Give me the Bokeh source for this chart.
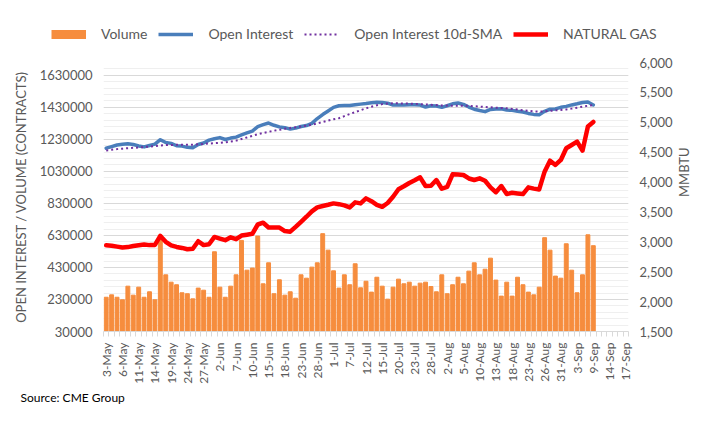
import math
from bokeh.plotting import figure
from bokeh.layouts import column
from bokeh.models import (Range1d, LinearAxis, FixedTicker, NumeralTickFormatter,
                          Legend, LegendItem, Title)
from bokeh.embed import file_html
from bokeh.resources import INLINE

# ---------------- data ----------------
dates = ["3-May", "4-May", "5-May", "6-May", "7-May", "10-May", "11-May", "12-May", "13-May", "14-May",
         "17-May", "18-May", "19-May", "20-May", "21-May", "24-May", "25-May", "26-May", "27-May", "28-May",
         "1-Jun", "2-Jun", "3-Jun", "4-Jun", "7-Jun", "8-Jun", "9-Jun", "10-Jun", "11-Jun", "14-Jun",
         "15-Jun", "16-Jun", "17-Jun", "18-Jun", "21-Jun", "22-Jun", "23-Jun", "24-Jun", "25-Jun", "28-Jun",
         "29-Jun", "30-Jun", "1-Jul", "2-Jul", "6-Jul", "7-Jul", "8-Jul", "9-Jul", "12-Jul", "13-Jul",
         "14-Jul", "15-Jul", "16-Jul", "19-Jul", "20-Jul", "21-Jul", "22-Jul", "23-Jul", "26-Jul", "27-Jul",
         "28-Jul", "29-Jul", "30-Jul", "2-Aug", "3-Aug", "4-Aug", "5-Aug", "6-Aug", "9-Aug", "10-Aug",
         "11-Aug", "12-Aug", "13-Aug", "16-Aug", "17-Aug", "18-Aug", "19-Aug", "20-Aug", "23-Aug", "24-Aug",
         "25-Aug", "26-Aug", "27-Aug", "30-Aug", "31-Aug", "1-Sep", "2-Sep", "3-Sep", "7-Sep", "8-Sep",
         "9-Sep", "10-Sep", "13-Sep", "14-Sep", "15-Sep", "16-Sep", "17-Sep"]

volume = [244000, 259000, 244000, 228000, 313000, 257000, 307000, 244000, 278000, 228000,
          632000, 384000, 338000, 322000, 272000, 266000, 234000, 301000, 288000, 244000,
          528000, 307000, 244000, 313000, 384000, 599000, 413000, 426000, 626000, 328000,
          459000, 266000, 353000, 257000, 278000, 238000, 384000, 363000, 432000, 459000,
          641000, 538000, 409000, 301000, 384000, 322000, 453000, 303000, 344000, 276000,
          369000, 313000, 232000, 307000, 357000, 328000, 338000, 313000, 332000, 338000,
          311000, 278000, 384000, 266000, 322000, 369000, 328000, 407000, 459000, 384000,
          419000, 488000, 351000, 251000, 338000, 251000, 369000, 322000, 276000, 259000,
          307000, 616000, 538000, 376000, 363000, 578000, 413000, 272000, 384000, 634000,
          566000]

open_interest = [1175000, 1185000, 1195000, 1199000, 1202000, 1198000, 1189000, 1183000, 1192000, 1200000,
                 1228000, 1210000, 1205000, 1190000, 1188000, 1180000, 1178000, 1198000, 1207000, 1225000,
                 1234000, 1241000, 1229000, 1238000, 1244000, 1258000, 1270000, 1282000, 1310000, 1322000,
                 1332000, 1318000, 1308000, 1303000, 1294000, 1300000, 1310000, 1316000, 1330000, 1360000,
                 1385000, 1407000, 1430000, 1440000, 1441000, 1441000, 1446000, 1450000, 1454000, 1459000,
                 1461000, 1460000, 1456000, 1444000, 1445000, 1445000, 1446000, 1446000, 1444000, 1432000,
                 1440000, 1438000, 1430000, 1440000, 1452000, 1457000, 1448000, 1432000, 1418000, 1410000,
                 1403000, 1417000, 1420000, 1421000, 1413000, 1411000, 1405000, 1401000, 1392000, 1386000,
                 1384000, 1405000, 1418000, 1420000, 1430000, 1436000, 1445000, 1452000, 1460000, 1463000,
                 1445000]

oi_sma_10d = [1161000, 1165000, 1169000, 1172000, 1175000, 1177000, 1179000, 1182000, 1185000, 1188000,
              1192000, 1194000, 1195000, 1196000, 1196000, 1197000, 1197000, 1199000, 1201000, 1204000,
              1206000, 1208000, 1211000, 1216000, 1222000, 1232000, 1242000, 1252000, 1262000, 1270000,
              1277000, 1284000, 1290000, 1296000, 1301000, 1306000, 1310000, 1316000, 1322000, 1330000,
              1338000, 1347000, 1355000, 1362000, 1375000, 1388000, 1400000, 1412000, 1424000, 1434000,
              1443000, 1450000, 1454000, 1455000, 1455000, 1454000, 1453000, 1452000, 1450000, 1448000,
              1446000, 1444000, 1442000, 1441000, 1440000, 1440000, 1440000, 1439000, 1437000, 1435000,
              1432000, 1430000, 1428000, 1426000, 1424000, 1420000, 1416000, 1412000, 1408000, 1405000,
              1404000, 1405000, 1408000, 1411000, 1414000, 1417000, 1422000, 1428000, 1434000, 1440000,
              1444000]

natural_gas = [2943, 2935, 2920, 2905, 2912, 2930, 2943, 2955, 2945, 2948,
               3099, 3000, 2940, 2915, 2898, 2875, 2885, 3010, 2945, 2960,
               3082, 3055, 3027, 3075, 3044, 3105, 3120, 3135, 3290, 3320,
               3240, 3240, 3238, 3180, 3170, 3250, 3334, 3420, 3510, 3576,
               3600, 3620, 3643, 3630, 3610, 3576, 3660, 3643, 3727, 3680,
               3620, 3586, 3650, 3754, 3880, 3930, 3985, 4030, 4079, 3933,
               3938, 4034, 3888, 3921, 4130, 4125, 4118, 4060, 4034, 4062,
               4022, 3910, 3830, 3933, 3799, 3821, 3810, 3799, 3911, 3890,
               3877, 4173, 4358, 4286, 4370, 4566, 4620, 4676, 4525, 4930,
               5005]

left_ticks = [30000, 230000, 430000, 630000, 830000, 1030000, 1230000, 1430000, 1630000]
left_minor_ticks = list(range(30000, 1710001, 40000))
right_ticks = [1500, 2000, 2500, 3000, 3500, 4000, 4500, 5000, 5500, 6000]

# ---------------- styling ----------------
FONT = "Lato"
GREY_TXT = "#595959"
C_VOL = "#F68D3E"
C_OI = "#4A7EBB"
C_SMA = "#7030A0"
C_NG = "#FF0000"
W = 702

x = list(range(len(volume)))
n_cat = len(dates)

# ---------------- main chart ----------------
p = figure(width=W, height=370, output_backend="svg", toolbar_location=None,
           x_range=Range1d(-0.5, n_cat - 0.5),
           y_range=Range1d(left_ticks[0], left_minor_ticks[-1]),
           min_border_left=103, min_border_right=73, min_border_top=14, min_border_bottom=87)
p.frame_align = False
p.extra_y_ranges = {"ng": Range1d(right_ticks[0], right_ticks[-1])}
p.outline_line_color = None
p.background_fill_color = "white"
p.border_fill_color = "white"

bars = p.vbar(x=x, top=volume, bottom=left_ticks[0], width=0.72,
              fill_color=C_VOL, line_color=C_VOL)
oi_line = p.line(x, open_interest, line_color=C_OI, line_width=3.5, line_cap="round", line_join="round")
sma_line = p.line(x, oi_sma_10d, line_color=C_SMA, line_width=2, line_dash="2 3")
ng_line = p.line(x, natural_gas, line_color=C_NG, line_width=4.5, line_cap="round",
                 line_join="round", y_range_name="ng")

# grid
p.xgrid.visible = False
yticker = FixedTicker(ticks=left_ticks, minor_ticks=left_minor_ticks)
p.yaxis[0].ticker = yticker
p.ygrid[0].ticker = yticker
p.ygrid.grid_line_color = "#d9d9d9"
p.ygrid.grid_line_width = 1
p.ygrid.minor_grid_line_color = "#efefef"
p.ygrid.minor_grid_line_width = 1

# left axis
la = p.yaxis[0]
la.axis_label = "OPEN INTEREST / VOLUME (CONTRACTS)"
la.axis_label_text_font = FONT
la.axis_label_text_font_size = "13px"
la.axis_label_text_font_style = "normal"
la.axis_label_text_color = GREY_TXT
la.axis_label_standoff = 8
la.major_label_text_font = FONT
la.major_label_text_font_size = "13px"
la.major_label_text_color = GREY_TXT
la.major_label_standoff = 11
la.axis_line_color = None
la.major_tick_line_color = None
la.minor_tick_line_color = None
la.major_tick_out = 0
la.minor_tick_out = 0
la.formatter = NumeralTickFormatter(format="0")

# right axis (values)
ra = LinearAxis(y_range_name="ng", ticker=FixedTicker(ticks=right_ticks),
                formatter=NumeralTickFormatter(format="0,0"))
ra.major_label_text_font = FONT
ra.major_label_text_font_size = "13px"
ra.major_label_text_color = GREY_TXT
ra.major_label_standoff = 11
ra.axis_line_color = None
ra.major_tick_line_color = None
ra.minor_tick_line_color = None
ra.major_tick_out = 0
ra.minor_tick_out = 0
p.add_layout(ra, "right")

# right axis title, written bottom-to-top as in the reference
mid_ng = (right_ticks[0] + right_ticks[-1]) / 2
ra_title = LinearAxis(y_range_name="ng", ticker=FixedTicker(ticks=[mid_ng]))
ra_title.major_label_overrides = {mid_ng: "MMBTU"}
ra_title.major_label_orientation = math.pi / 2
ra_title.major_label_text_font = FONT
ra_title.major_label_text_font_size = "13px"
ra_title.major_label_text_color = GREY_TXT
ra_title.major_label_standoff = 8
ra_title.axis_line_color = None
ra_title.major_tick_line_color = None
ra_title.minor_tick_line_color = None
ra_title.major_tick_out = 0
ra_title.minor_tick_out = 0
p.add_layout(ra_title, "right")

# bottom axis
xa = p.xaxis[0]
major_idx = list(range(0, n_cat, 3))
xa.ticker = FixedTicker(ticks=major_idx, minor_ticks=[i - 0.5 for i in range(n_cat + 1)])
xa.major_label_overrides = {i: dates[i] for i in major_idx}
xa.major_label_orientation = math.pi / 2
xa.major_label_text_font = FONT
xa.major_label_text_font_size = "12px"
xa.major_label_text_color = GREY_TXT
xa.major_label_standoff = 6
xa.axis_line_color = "#d9d9d9"
xa.major_tick_line_color = None
xa.major_tick_out = 0
xa.minor_tick_line_color = "#d9d9d9"
xa.minor_tick_out = 5
xa.minor_tick_in = 0

# source note
src = Title(text="Source: CME Group", align="left", offset=-83, standoff=3,
            text_font=FONT, text_font_size="12px", text_font_style="normal", text_color="#000000")
p.add_layout(src, "below")

# ---------------- legend strip ----------------
# the strip holds out-of-range copies of the series (lines only) so that only the legend shows;
# the volume swatch is a thick butt-capped line, which reads as the orange block of the reference
lg = figure(width=W, height=48, output_backend="svg", toolbar_location=None,
            x_axis_type=None, y_axis_type=None, min_border=0,
            x_range=Range1d(-0.5, n_cat - 0.5), y_range=Range1d(-3e6, -2e6))
lg.frame_align = False
lg.outline_line_color = None
lg.grid.visible = False
lg_vol = lg.line(x, volume, line_color=C_VOL, line_width=9, line_cap="butt")
lg_oi = lg.line(x, open_interest, line_color=C_OI, line_width=3.5)
lg_sma = lg.line(x, oi_sma_10d, line_color=C_SMA, line_width=2, line_dash="2 3")
lg_ng = lg.line(x, natural_gas, line_color=C_NG, line_width=4.5)

legend = Legend(items=[LegendItem(label="Volume", renderers=[lg_vol]),
                       LegendItem(label="Open Interest", renderers=[lg_oi]),
                       LegendItem(label="Open Interest 10d-SMA", renderers=[lg_sma]),
                       LegendItem(label="NATURAL GAS", renderers=[lg_ng])],
                orientation="horizontal", location=(49, 4),
                glyph_width=35, glyph_height=10, label_height=14,
                label_standoff=15, spacing=11, padding=2, margin=0,
                border_line_alpha=0, background_fill_alpha=0,
                label_text_font=FONT, label_text_font_size="14px", label_text_color=GREY_TXT)
lg.add_layout(legend, "center")

layout = column(lg, p, spacing=0)
open("out.html", "w").write(file_html(layout, INLINE))
